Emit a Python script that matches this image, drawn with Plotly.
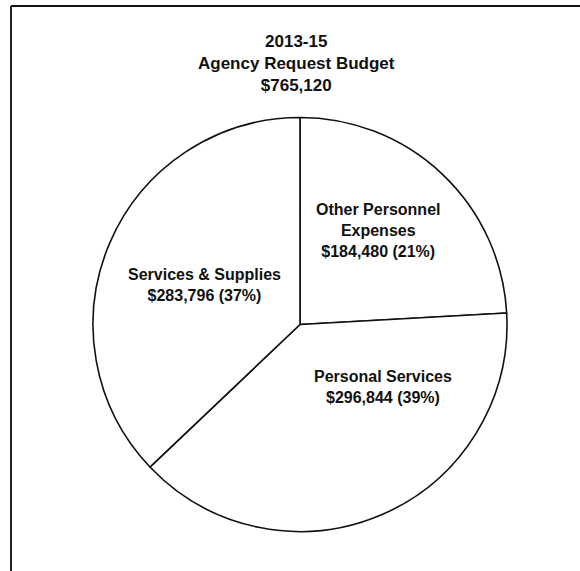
import plotly.graph_objects as go

W, H = 580, 571

categories = ["Other Personnel Expenses", "Personal Services", "Services & Supplies"]
amounts = [184480, 296844, 283796]
label_text = [
    "Other Personnel<br>Expenses<br>$184,480 (21%)",
    "Personal Services<br>$296,844 (39%)",
    "Services & Supplies<br>$283,796 (37%)",
]
title_lines = ["2013-15", "Agency Request Budget", "$765,120"]

font_family = "Liberation Sans, Arial, sans-serif"


def px_x(x):
    return x / W


def px_y(y):
    return 1 - y / H


fig = go.Figure(
    go.Pie(
        labels=categories,
        values=amounts,
        sort=False,
        direction="clockwise",
        rotation=0,
        textinfo="none",
        hoverinfo="label+value+percent",
        marker=dict(colors=["white"] * 3, line=dict(color="#111111", width=1.6)),
        domain=dict(x=[px_x(93), px_x(507)], y=[px_y(532), px_y(117)]),
        showlegend=False,
    )
)

# label positions (pixels) for each slice
label_pos = [(378, 231), (383, 387), (204, 285)]
for txt, (lx, ly) in zip(label_text, label_pos):
    fig.add_annotation(
        x=px_x(lx), y=px_y(ly), xref="paper", yref="paper",
        xanchor="center", yanchor="middle",
        text=f"<b>{txt}</b>", showarrow=False,
        font=dict(family=font_family, size=16, color="#111111"),
        align="center",
    )

fig.add_annotation(
    x=px_x(296), y=px_y(63), xref="paper", yref="paper",
    xanchor="center", yanchor="middle",
    text="<b>" + "<br>".join(title_lines) + "</b>", showarrow=False,
    font=dict(family=font_family, size=17, color="#111111"),
    align="center",
)

# frame lines (top and left)
fig.add_shape(type="line", xref="paper", yref="paper",
              x0=px_x(11), y0=px_y(6), x1=1, y1=px_y(6),
              line=dict(color="#111111", width=2))
fig.add_shape(type="line", xref="paper", yref="paper",
              x0=px_x(11), y0=px_y(6), x1=px_x(11), y1=0,
              line=dict(color="#222222", width=2))

fig.update_layout(
    width=W, height=H,
    margin=dict(l=0, r=0, t=0, b=0),
    paper_bgcolor="white",
    plot_bgcolor="white",
)

fig.write_html(
    "out.html",
    config={"displayModeBar": False},
    post_script="document.body.style.margin='0px';",
)
